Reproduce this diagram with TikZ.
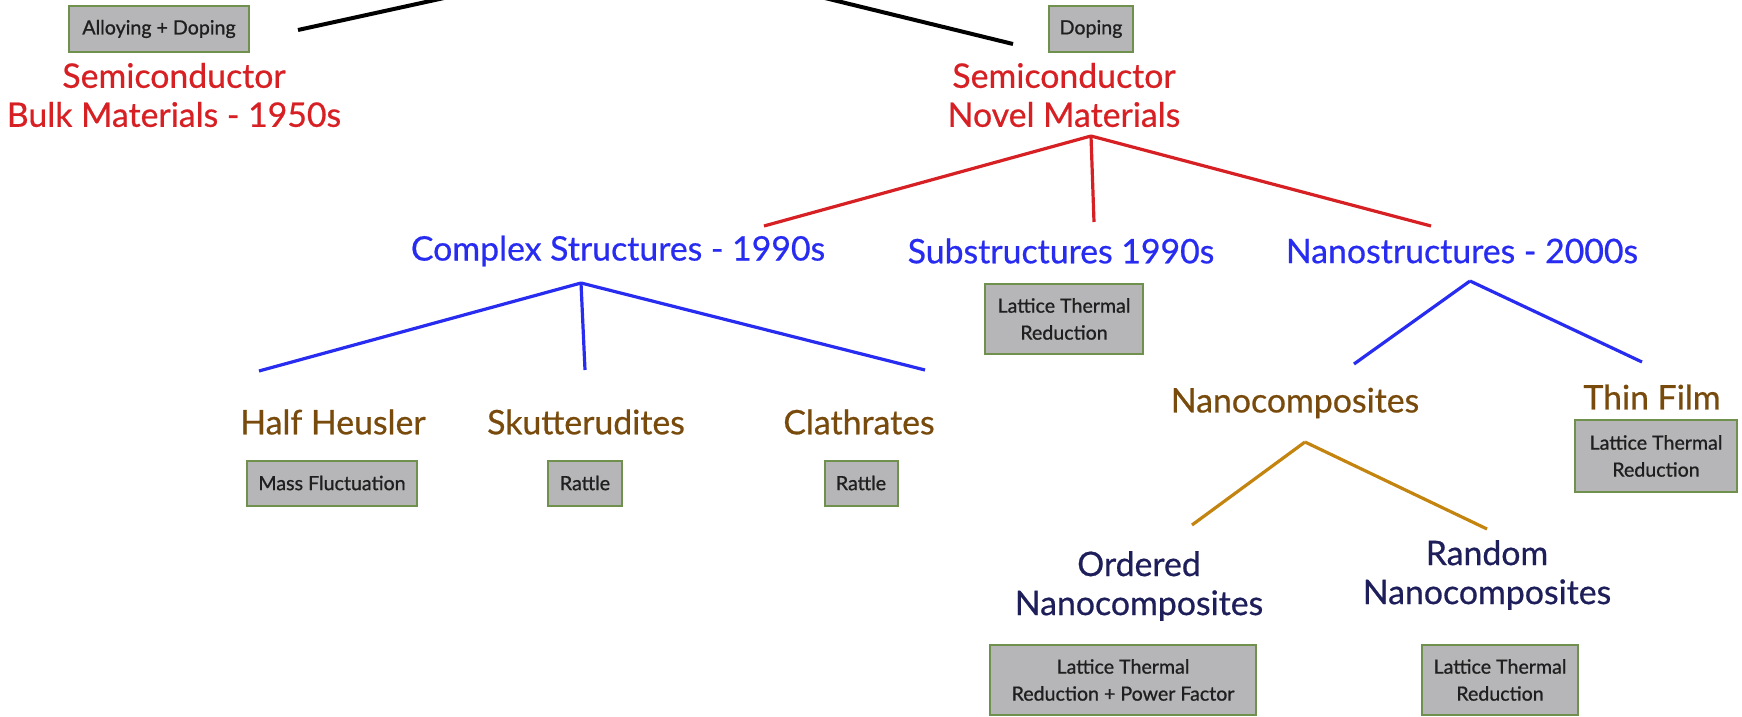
\documentclass[tikz,border=0pt]{standalone}
\usepackage{fontspec}
\setmainfont{Lato}
\newfontfamily\labfont{Lato}[FakeBold=0.6]
\newfontfamily\boxfont{Lato}[FakeBold=0.9]
\definecolor{redc}{RGB}{214,32,36}
\definecolor{bluec}{RGB}{40,44,240}
\definecolor{brownc}{RGB}{120,74,12}
\definecolor{navyc}{RGB}{30,30,90}
\definecolor{goldc}{RGB}{196,132,16}
\definecolor{boxfill}{RGB}{182,182,184}
\definecolor{boxedge}{RGB}{112,145,78}
\begin{document}
\begin{tikzpicture}[x=0.5pt,y=-0.5pt,
  lab/.style={inner sep=0pt,align=center,font=\labfont\fontsize{16.9}{19.5}\selectfont},
  redlab/.style={lab,text=redc},
  bluelab/.style={lab,text=bluec},
  brownlab/.style={lab,text=brownc},
  navylab/.style={lab,text=navyc},
  gbox/.style={draw=boxedge,fill=boxfill,line width=1pt,inner sep=0pt,align=center,
    text=black!88,font=\boxfont\fontsize{9.8}{13.5}\selectfont},
  blackln/.style={line width=2pt,black},
  redln/.style={line width=1.6pt,redc},
  blueln/.style={line width=1.6pt,bluec},
  goldln/.style={line width=1.6pt,goldc}]
\useasboundingbox (0,0) rectangle (1742,717);
\clip (0,0) rectangle (1742,717);
% top level
\node[gbox,minimum width=90pt,minimum height=23pt] (ad) at (159,29) {Alloying + Doping};
\node[redlab] (bulk) at (174,95) {Semiconductor\\Bulk Materials - 1950s};
\node[gbox,minimum width=42pt,minimum height=23pt] (dop) at (1091,29) {Doping};
\node[redlab] (novel) at (1064,95) {Semiconductor\\Novel Materials};
\coordinate (top) at (645,-46);
\coordinate (bulkT) at (298,30);
\coordinate (novelT) at (1013,44);
\draw[blackln] (bulkT) -- (top) -- (novelT);
% second level
\node[bluelab] (cs) at (618,251) {Complex Structures - 1990s};
\node[bluelab] (ss) at (1061,251) {Substructures 1990s};
\node[bluelab] (ns) at (1462,251) {Nanostructures - 2000s};
\coordinate (novelB) at (1091,136);
\coordinate (csT) at (764,226);
\coordinate (ssT) at (1094,222);
\coordinate (nsT) at (1431,226);
\draw[redln] (novelB) -- (csT);
\draw[redln] (novelB) -- (ssT);
\draw[redln] (novelB) -- (nsT);
\node[gbox,minimum width=79pt,minimum height=35pt] (ssbox) at (1064,319) {Lattice Thermal\\Reduction};
% complex structures children
\node[brownlab] (hh) at (333,422) {Half Heusler};
\node[brownlab] (sk) at (586,422) {Skutterudites};
\node[brownlab] (cl) at (859,422) {Clathrates};
\coordinate (csB) at (581,283);
\coordinate (hhT) at (259,371);
\coordinate (skT) at (585,370);
\coordinate (clT) at (925,370);
\draw[blueln] (csB) -- (hhT);
\draw[blueln] (csB) -- (skT);
\draw[blueln] (csB) -- (clT);
\node[gbox,minimum width=85pt,minimum height=22.5pt] (hhbox) at (332,483) {Mass Fluctuation};
\node[gbox,minimum width=37pt,minimum height=22.5pt] (skbox) at (585,483) {Rattle};
\node[gbox,minimum width=36.5pt,minimum height=22.5pt] (clbox) at (861,483) {Rattle};
% nanostructures children
\node[brownlab] (nc) at (1295,403) {Nanocomposites};
\node[brownlab] (tf) at (1652,397) {Thin Film};
\coordinate (nsB) at (1470,281);
\coordinate (ncT) at (1354,364);
\coordinate (tfT) at (1642,362);
\draw[blueln] (nsB) -- (ncT);
\draw[blueln] (nsB) -- (tfT);
\node[gbox,minimum width=81pt,minimum height=36pt] (tfbox) at (1656,456) {Lattice Thermal\\Reduction};
% nanocomposites children
\node[navylab] (on) at (1139,586) {Ordered\\Nanocomposites};
\node[navylab] (rn) at (1487,575) {Random\\Nanocomposites};
\coordinate (ncB) at (1305,442);
\coordinate (onT) at (1192,525);
\coordinate (rnT) at (1487,529);
\draw[goldln] (ncB) -- (onT);
\draw[goldln] (ncB) -- (rnT);
\node[gbox,minimum width=133pt,minimum height=35pt] (onbox) at (1123,680) {Lattice Thermal\\Reduction + Power Factor};
\node[gbox,minimum width=78pt,minimum height=35pt] (rnbox) at (1500,680) {Lattice Thermal\\Reduction};
\end{tikzpicture}
\end{document}
